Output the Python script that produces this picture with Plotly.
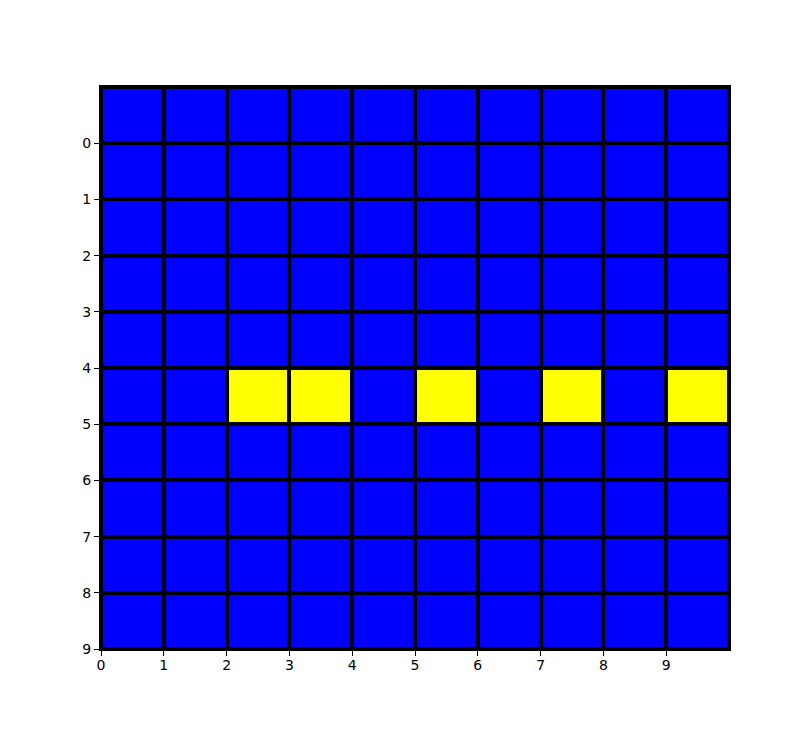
import plotly.graph_objects as go

x_edges = [0, 1, 2, 3, 4, 5, 6, 7, 8, 9, 10]
y_edges = [-1, 0, 1, 2, 3, 4, 5, 6, 7, 8, 9]
z = [
    [0, 0, 0, 0, 0, 0, 0, 0, 0, 0],
    [0, 0, 0, 0, 0, 0, 0, 0, 0, 0],
    [0, 0, 0, 0, 0, 0, 0, 0, 0, 0],
    [0, 0, 0, 0, 0, 0, 0, 0, 0, 0],
    [0, 0, 0, 0, 0, 0, 0, 0, 0, 0],
    [0, 0, 1, 1, 0, 1, 0, 1, 0, 1],
    [0, 0, 0, 0, 0, 0, 0, 0, 0, 0],
    [0, 0, 0, 0, 0, 0, 0, 0, 0, 0],
    [0, 0, 0, 0, 0, 0, 0, 0, 0, 0],
    [0, 0, 0, 0, 0, 0, 0, 0, 0, 0],
]
tick_vals = [0, 1, 2, 3, 4, 5, 6, 7, 8, 9]

fig = go.Figure(go.Heatmap(
    x=x_edges, y=y_edges, z=z,
    colorscale=[[0, "#0000ff"], [0.5, "#0000ff"], [0.5, "#ffff00"], [1, "#ffff00"]],
    zmin=0, zmax=1, showscale=False, xgap=4, ygap=4, hoverinfo="skip",
))

axis_common = dict(
    showgrid=False, zeroline=False, showline=True, linecolor="black", linewidth=2,
    mirror=True, ticks="outside", ticklen=5, tickcolor="black", tickwidth=1,
    tickfont=dict(family="DejaVu Sans", size=14, color="black"),
    tickvals=tick_vals, ticktext=[str(v) for v in tick_vals],
)
fig.update_xaxes(range=[0, 10], ticklabelstandoff=-3, **axis_common)
fig.update_yaxes(range=[9, -1], **axis_common)
fig.update_layout(
    width=810, height=729,
    margin=dict(l=93, r=89, t=79, b=88),
    plot_bgcolor="black", paper_bgcolor="white",
)
fig.write_html("out.html")
